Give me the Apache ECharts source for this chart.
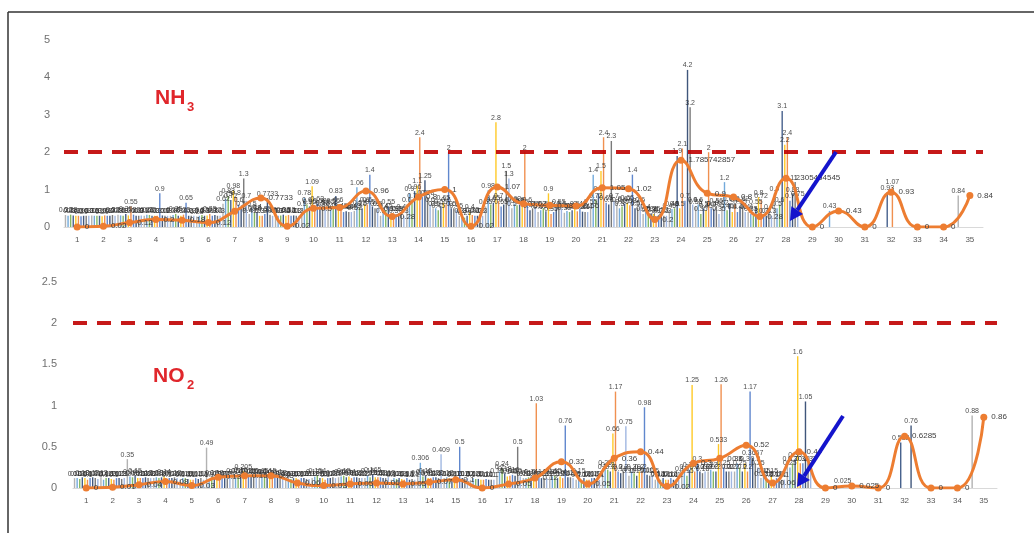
<!DOCTYPE html>
<html>
<head>
<meta charset="utf-8">
<script src="https://cdn.jsdelivr.net/npm/echarts@6/dist/echarts.min.js"></script>
<style>
  html, body { margin: 0; padding: 0; background: #fff; }
  #chart { width: 1034px; height: 533px; }
</style>
</head>
<body>
<div id="chart"></div>
<script>
// sites 1..35
var categories = [];
for (var i = 1; i <= 35; i++) categories.push(String(i));

var limitNH3 = 2;
var limitNO2 = 2;

// averages (orange smooth line)
var nh3Mean = [0, 0.02, 0.12, 0.2, 0.18, 0.12, 0.42, 0.7733, 0.02, 0.5, 0.52, 0.96, 0.28, 0.8, 1.0, 0.02, 1.07, 0.62, 0.58, 0.56, 1.05, 1.02, 0.2, 1.785742857, 0.9, 0.8, 0.28, 1.305454545, 0, 0.43, 0, 0.93, 0, 0, 0.84];
var no2Mean = [0, 0.01, 0.04, 0.08, 0.03, 0.13, 0.15, 0.15, 0.06, 0.03, 0.05, 0.06, 0.05, 0.07, 0.1, 0, 0.05, 0.12, 0.32, 0.05, 0.36, 0.44, 0.02, 0.3, 0.36, 0.52, 0.06, 0.44, 0, 0.025, 0, 0.6285, 0, 0, 0.86];

// individual measurements, one array per sampling round
var nh3S0 = [0.32,0.31,0.33,0.3,0.3,0.28,0.62,0.35,0.3,0.5,0.55,0.43,0.3,0.6,0.5,0.3,0.55,0.5,0.4,0.38,0.55,0.6,0.35,0.45,0.55,0.52,0.4,0.9,null,null,null,null,null,null,0.84];
var nh3S1 = [0.3,0.3,0.31,0.33,0.32,0.3,0.75,0.5,0.3,0.78,0.45,1.06,0.4,0.9,0.5,0.3,0.98,0.62,0.45,0.43,1.4,0.5,0.4,0.48,0.6,1.2,0.35,0.5,null,0.43,null,null,null,null,null];
var nh3S2 = [0.33,0.3,0.3,0.32,0.35,0.32,0.83,0.38,0.31,0.6,0.56,0.52,0.45,0.7,0.45,0.25,0.6,0.58,0.5,0.4,0.72,0.55,0.33,0.5,0.35,0.45,0.3,0.6,null,null,null,null,null,null,null];
var nh3S3 = [0.31,0.3,0.35,0.3,0.3,0.3,0.72,0.4,0.33,0.55,0.83,0.5,0.55,0.96,0.55,0.3,0.65,0.6,0.42,0.45,0.9,0.62,0.36,1.9,0.5,0.63,0.55,3.1,null,null,null,0.93,null,null,null];
var nh3S4 = [0.3,0.29,0.31,0.3,0.3,0.31,0.98,0.3,0.3,1.09,0.6,0.6,0.35,1.1,0.65,0.4,2.8,0.55,0.9,0.5,1.5,0.65,0.35,0.5,0.45,0.4,0.8,2.2,null,null,null,null,null,null,null];
var nh3S5 = [0.3,0.31,0.55,0.3,0.33,0.35,0.8,0.3,0.32,0.5,0.45,0.6,0.3,2.4,0.6,0.32,0.7,2,0.35,0.42,2.4,0.58,0.2,2.1,2,0.6,0.72,2.4,null,null,null,1.07,null,null,null];
var nh3S6 = [0.29,0.3,0.33,0.9,0.65,0.3,0.6,0.35,0.3,0.63,0.4,1.4,0.35,0.8,2,0.3,0.55,0.6,0.4,0.48,0.65,1.4,0.3,0.7,0.5,0.4,0.3,0.7,null,null,null,null,null,null,null];
var nh3S7 = [0.3,0.3,0.3,0.31,0.3,0.32,0.5,0.7733,0.31,0.58,0.42,0.55,0.36,1.25,0.5,0.3,0.6,0.45,0.5,0.41,0.6,0.5,0.33,4.2,0.49,0.55,0.3,0.88,null,null,null,null,null,null,null];
var nh3S8 = [0.3,0.32,0.3,0.3,0.3,0.3,1.3,0.33,0.3,0.52,0.4,0.5,0.4,0.78,0.5,0.3,1.5,0.5,0.55,0.4,2.3,0.52,0.3,3.2,0.56,0.62,0.4,1.2,null,null,null,null,null,null,null];
var nh3S9 = [0.3,0.3,0.31,0.3,0.3,0.3,0.7,0.3,0.3,0.5,0.4,0.5,0.3,0.6,0.45,0.3,1.3,0.5,0.5,0.4,0.7,0.6,0.3,0.6,0.35,0.4,0.3,0.75,null,null,null,null,null,null,null];

var no2S0 = [0.12,0.13,0.35,0.12,0.1,0.49,0.15,0.14,0.1,0.12,0.13,0.12,0.1,0.13,0.12,0.1,0.15,0.12,0.14,0.1,0.2,0.15,0.1,0.18,0.2,0.2,0.12,0.3,null,null,null,null,null,null,0.88];
var no2S1 = [0.12,0.1,0.14,0.13,0.12,0.1,0.14,0.15,0.12,0.138,0.14,0.15,0.12,0.306,0.13,0.12,0.2,0.12,0.14,0.15,0.25,0.2,0.12,0.2,0.22,0.3,0.15,0.25,null,0.025,null,null,null,null,null];
var no2S2 = [0.11,0.12,0.13,0.12,0.12,0.13,0.15,0.14,0.11,0.154,0.15,0.13,0.11,0.14,0.12,0.11,0.24,0.13,0.15,0.1,0.22,0.18,0.1,0.15,0.2,0.25,0.12,0.3,null,null,null,null,null,null,null];
var no2S3 = [0.13,0.12,0.15,0.13,0.11,0.12,0.16,0.13,0.12,0.12,0.13,0.165,0.12,0.15,0.1,0.11,0.18,0.14,0.12,0.12,0.2,0.15,0.12,0.22,0.2,0.2,0.1,0.35,null,null,null,0.553,null,null,null];
var no2S4 = [0.12,0.11,0.12,0.14,0.1,0.13,0.205,0.15,0.12,0.12,0.14,0.13,0.11,0.12,0.12,0.1,0.14,0.12,0.14,0.1,0.66,0.2,0.1,1.25,0.533,0.3,0.15,1.6,null,null,null,null,null,null,null];
var no2S5 = [0.1,0.1,0.12,0.1,0.1,0.12,0.14,0.12,0.1,0.1,0.12,0.13,0.1,0.12,0.11,0.1,0.15,1.03,0.12,0.1,1.17,0.2,0.1,0.2,1.26,0.2,0.1,0.3,null,null,null,null,null,null,null];
var no2S6 = [0.12,0.12,0.12,0.12,0.12,0.12,0.15,0.14,0.12,0.12,0.13,0.13,0.12,0.13,0.5,0.11,0.16,0.14,0.76,0.12,0.2,0.98,0.12,0.3,0.25,1.17,0.12,0.3,null,null,null,null,null,null,null];
var no2S7 = [0.13,0.12,0.13,0.12,0.11,0.12,0.15,0.13,0.12,0.12,0.13,0.12,0.1,0.13,0.12,0.1,0.15,0.12,0.13,0.12,0.18,0.16,0.1,0.2,0.2,0.3667,0.12,1.05,null,null,null,0.76,null,null,null];
var no2S8 = [0.12,0.11,0.12,0.13,0.12,0.11,0.14,0.13,0.11,0.13,0.12,0.12,0.11,0.12,0.11,0.1,0.5,0.12,0.13,0.11,0.2,0.15,0.1,0.18,0.2,0.3,0.1,0.3,null,null,null,null,null,null,null];
var no2S9 = [0.11,0.12,0.12,0.12,0.1,0.12,0.14,0.12,0.11,0.12,0.12,0.13,0.1,0.409,0.12,0.1,0.14,0.12,0.12,0.1,0.75,0.15,0.1,0.2,0.2,0.25,0.1,0.3,null,null,null,null,null,null,null];

var nh3Rounds = [nh3S0, nh3S1, nh3S2, nh3S3, nh3S4, nh3S5, nh3S6, nh3S7, nh3S8, nh3S9];
var no2Rounds = [no2S0, no2S1, no2S2, no2S3, no2S4, no2S5, no2S6, no2S7, no2S8, no2S9];
var roundColors = ['#A5A5A5', '#5B9BD5', '#70AD47', '#264478', '#FFC000', '#ED7D31', '#4472C4', '#1F3864', '#636363', '#8FAADC'];

var chartDom = document.getElementById('chart');
var myChart = echarts.init(chartDom);

function barSeries(rounds, axisIdx) {
  return rounds.map(function (d, k) {
    return {
      type: 'bar',
      xAxisIndex: axisIdx,
      yAxisIndex: axisIdx,
      data: d,
      barWidth: 1.4,
      barGap: '85%',
      itemStyle: { color: roundColors[k], opacity: 0.85 },
      label: { show: true, position: 'top', distance: 1, fontSize: 7, color: '#2b2b2b', fontFamily: 'Liberation Sans' },
      z: 2
    };
  });
}

function meanSeries(d, axisIdx, limit) {
  return {
    type: 'line',
    xAxisIndex: axisIdx,
    yAxisIndex: axisIdx,
    data: d,
    smooth: 0.5,
    symbol: 'circle',
    symbolSize: 7,
    lineStyle: { color: '#ED7D31', width: 3 },
    itemStyle: { color: '#ED7D31' },
    label: { show: true, position: 'right', distance: 4, fontSize: 8, color: '#404040', fontFamily: 'Liberation Sans' },
    markLine: {
      silent: true,
      symbol: 'none',
      label: { show: false },
      lineStyle: { color: '#C00000', type: [14, 10], width: 4, opacity: 0.9 },
      data: [{ yAxis: limit }]
    },
    z: 5
  };
}

function xAx(idx) {
  return {
    type: 'category',
    gridIndex: idx,
    data: categories,
    axisLine: { lineStyle: { color: '#D9D9D9' } },
    axisTick: { show: false },
    axisLabel: { fontSize: 8, color: '#595959', margin: 9, interval: 0 }
  };
}

function arrow(x1, y1, x2, y2) {
  var dx = x2 - x1, dy = y2 - y1;
  var len = Math.sqrt(dx * dx + dy * dy);
  var ux = dx / len, uy = dy / len;
  var bx = x2 - ux * 13, by = y2 - uy * 13;
  var px = -uy, py = ux;
  return [
    { type: 'line', shape: { x1: x1, y1: y1, x2: bx, y2: by }, style: { stroke: '#1414CC', lineWidth: 4 }, z: 100 },
    { type: 'polygon', shape: { points: [[x2, y2], [bx + px * 7, by + py * 7], [bx - px * 7, by - py * 7]] }, style: { fill: '#1414CC' }, z: 100 }
  ];
}

var option = {
  animation: false,
  backgroundColor: '#fff',
  textStyle: { fontFamily: 'Liberation Sans' },
  grid: [
    { left: 64, right: 51, top: 40, height: 187 },
    { left: 73, right: 37, top: 282, height: 206 }
  ],
  xAxis: [xAx(0), xAx(1)],
  yAxis: [
    { type: 'value', gridIndex: 0, min: 0, max: 5, interval: 1, splitLine: { show: false },
      axisLabel: { fontSize: 11, color: '#707070', margin: 14 } },
    { type: 'value', gridIndex: 1, min: 0, max: 2.5, interval: 0.5, splitLine: { show: false },
      axisLabel: { fontSize: 11, color: '#707070', margin: 16 } }
  ],
  series: barSeries(nh3Rounds, 0)
    .concat([meanSeries(nh3Mean, 0, limitNH3)])
    .concat(barSeries(no2Rounds, 1))
    .concat([meanSeries(no2Mean, 1, limitNO2)]),
  graphic: [
    { type: 'line', shape: { x1: 8, y1: 12, x2: 1034, y2: 12 }, style: { stroke: '#333', lineWidth: 1.5 } },
    { type: 'line', shape: { x1: 8, y1: 12, x2: 8, y2: 533 }, style: { stroke: '#333', lineWidth: 1.5 } },
    { type: 'text', left: 155, top: 88, style: { text: 'NH', fontSize: 21, fontWeight: 'bold', fill: '#E0262B', fontFamily: 'Liberation Sans' } },
    { type: 'text', left: 187, top: 101, style: { text: '3', fontSize: 13, fontWeight: 'bold', fill: '#E0262B', fontFamily: 'Liberation Sans' } },
    { type: 'text', left: 153, top: 366, style: { text: 'NO', fontSize: 21, fontWeight: 'bold', fill: '#E0262B', fontFamily: 'Liberation Sans' } },
    { type: 'text', left: 187, top: 379, style: { text: '2', fontSize: 13, fontWeight: 'bold', fill: '#E0262B', fontFamily: 'Liberation Sans' } }
  ].concat(arrow(836, 152, 790, 221)).concat(arrow(843, 416, 797, 487))
};

option && myChart.setOption(option);
</script>
</body>
</html>
